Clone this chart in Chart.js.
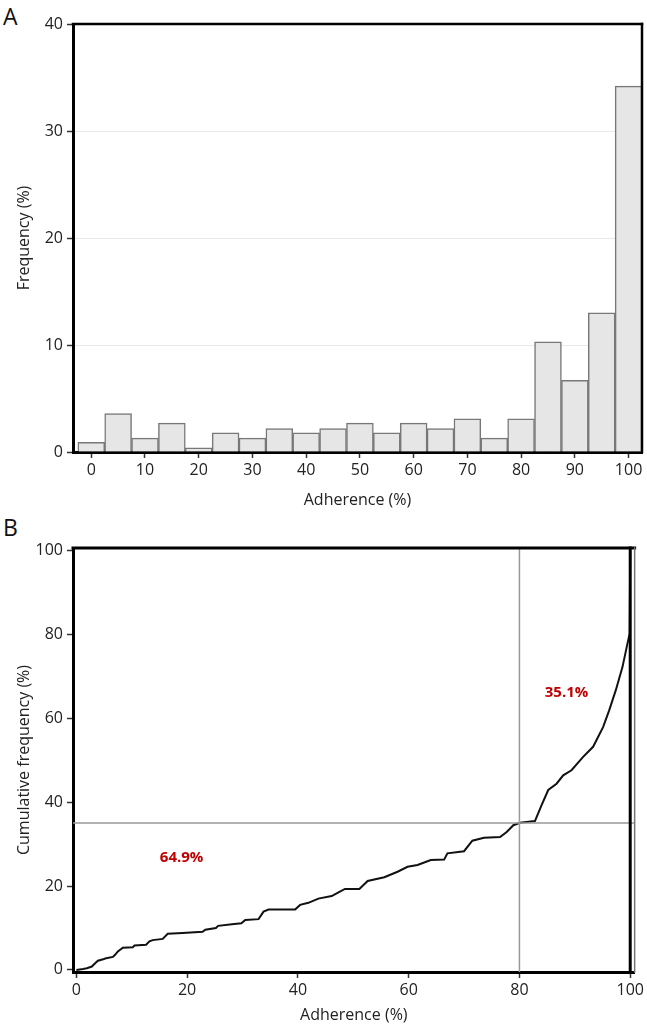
<!DOCTYPE html>
<html>
<head>
<meta charset="utf-8">
<script src="https://cdn.jsdelivr.net/npm/chart.js@4.4.1/dist/chart.umd.min.js"></script>
<style>
  html, body { margin: 0; padding: 0; background: #fff; }
  body { width: 647px; height: 1025px; position: relative; overflow: hidden; font-family: "Open Sans", sans-serif; }
  .panel { position: absolute; left: 0; }
  .letter { position: absolute; left: 3px; font-size: 23px; color: #111; }
</style>
</head>
<body>
<div class="letter" style="top:0px">A</div>
<div class="panel" style="top:0"><canvas id="histChart" width="647" height="510"></canvas></div>
<div class="letter" style="top:511px">B</div>
<div class="panel" style="top:510px"><canvas id="cumChart" width="647" height="515"></canvas></div>

<script>
// histogram: adherence bins (centre, width 5) and frequency (%)
const bins = [0, 5, 10, 15, 20, 25, 30, 35, 40, 45, 50, 55, 60, 65, 70, 75, 80, 85, 90, 95, 100];
const freq = [0.9, 3.6, 1.3, 2.7, 0.4, 1.8, 1.3, 2.2, 1.8, 2.2, 2.7, 1.8, 2.7, 2.2, 3.1, 1.3, 3.1, 10.3, 6.7, 13.0, 34.2];
const freqTicks = [0, 10, 20, 30, 40];
const adhTicksA = [0, 10, 20, 30, 40, 50, 60, 70, 80, 90, 100];

// cumulative distribution
const cumX = [0, 1.2, 1.9, 2.8, 3.4, 3.9, 5.0, 5.4, 6.6, 7.0, 7.5, 8.4, 10.2, 10.5, 12.6, 13.2, 13.8, 15.6, 16.5, 19.2,
  22.8, 23.3, 25.2, 25.6, 28.1, 29.8, 30.5, 32.9, 33.8, 34.7, 39.5, 40.4, 41.9, 43.7, 46.1, 47.5, 48.5, 51.1, 52.6, 55.6,
  58.0, 59.8, 61.6, 64.0, 66.4, 67.0, 70.0, 71.5, 73.6, 76.5, 77.7, 78.9, 80.1, 82.8, 84.0, 85.2, 86.7, 87.9, 89.4, 91.5,
  93.3, 95.1, 96.2, 97.4, 98.6, 99.5, 99.9, 100];
const cumY = [0, 0.2, 0.4, 0.8, 1.6, 2.2, 2.6, 2.8, 3.1, 3.6, 4.4, 5.3, 5.4, 5.8, 6.0, 6.8, 7.1, 7.4, 8.6, 8.8,
  9.1, 9.6, 10.0, 10.5, 10.9, 11.1, 11.9, 12.1, 13.9, 14.4, 14.4, 15.5, 16.0, 17.0, 17.6, 18.6, 19.3, 19.3, 21.2, 22.1,
  23.4, 24.6, 25.0, 26.2, 26.3, 27.8, 28.3, 30.8, 31.5, 31.7, 32.9, 34.5, 35.1, 35.5, 39.3, 42.9, 44.4, 46.4, 47.6, 50.8,
  53.2, 57.9, 61.9, 66.7, 72.2, 77.8, 80.2, 100];
const cumTicks = [0, 20, 40, 60, 80, 100];
const adhTicksB = [0, 20, 40, 60, 80, 100];
const cutoffAdh = 80;
const cutoffCum = 35;
const shareText = ['64.9%', '35.1%'];

const tickFont = { family: 'Open Sans', size: 16 };
const titleFont = { family: 'Open Sans', size: 16 };

const framePlugin = {
  id: 'frame',
  afterDatasetsDraw(chart, args, opts) {
    const { ctx, chartArea: a } = chart;
    ctx.save();
    ctx.lineCap = 'square';
    ctx.strokeStyle = opts.topColor;
    ctx.lineWidth = opts.topWidth;
    ctx.beginPath(); ctx.moveTo(a.left, a.top); ctx.lineTo(a.right, a.top); ctx.stroke();
    ctx.strokeStyle = opts.rightColor;
    ctx.lineWidth = opts.rightWidth;
    ctx.beginPath(); ctx.moveTo(a.right, a.top); ctx.lineTo(a.right, a.bottom); ctx.stroke();
    if (opts.endAt !== undefined) {
      const px = chart.scales.x.getPixelForValue(opts.endAt);
      ctx.strokeStyle = '#000';
      ctx.lineWidth = 3;
      ctx.beginPath(); ctx.moveTo(px, a.top); ctx.lineTo(px, a.bottom); ctx.stroke();
    }
    ctx.restore();
  }
};

const notesPlugin = {
  id: 'notes',
  afterDatasetsDraw(chart, args, opts) {
    if (!opts.items) return;
    const { ctx, scales } = chart;
    ctx.save();
    ctx.font = 'bold 15px "Open Sans"';
    ctx.fillStyle = '#c00000';
    ctx.textAlign = 'center';
    ctx.textBaseline = 'middle';
    opts.items.forEach(n => {
      ctx.fillText(n.text, scales.x.getPixelForValue(n.x), scales.y.getPixelForValue(n.y));
    });
    ctx.restore();
  }
};

function setTicks(list) {
  return scale => { scale.ticks = list.map(v => ({ value: v })); };
}

// Panel A
new Chart(document.getElementById('histChart'), {
  type: 'bar',
  data: {
    datasets: [{
      data: bins.map((b, i) => ({ x: b, y: freq[i] })),
      backgroundColor: '#e6e6e6',
      borderColor: '#787878',
      borderWidth: 1.5,
      categoryPercentage: 1,
      barPercentage: 1
    }]
  },
  options: {
    responsive: false,
    animation: false,
    devicePixelRatio: 1,
    layout: { padding: { top: 24, right: 5, left: 0, bottom: 0 } },
    plugins: { legend: { display: false }, tooltip: { enabled: false },
      frame: { topColor: '#000', topWidth: 2.5, rightColor: '#000', rightWidth: 2.5 } },
    scales: {
      x: {
        type: 'linear', min: -3.4, max: 102.5, offset: false,
        afterBuildTicks: setTicks(adhTicksA),
        afterFit: s => { s.height = 58; },
        border: { display: true, color: '#000', width: 3 },
        grid: { drawOnChartArea: false, offset: false, tickLength: 6, tickColor: '#333', tickWidth: 1.5 },
        ticks: { color: '#222', font: tickFont, padding: 3, maxRotation: 0 },
        title: { display: true, text: 'Adherence (%)', color: '#222', font: titleFont, padding: { top: 2, bottom: 0 } }
      },
      y: {
        min: 0, max: 40,
        afterBuildTicks: setTicks(freqTicks),
        afterFit: s => { s.width = 73; },
        border: { display: true, color: '#000', width: 3 },
        grid: {
          color: c => (c.tick && (c.tick.value === 0 || c.tick.value === 40)) ? 'rgba(0,0,0,0)' : '#e8e8e8',
          tickLength: 6, tickColor: '#333', tickWidth: 1.5
        },
        ticks: { color: '#222', font: tickFont, padding: 4 },
        title: { display: true, text: 'Frequency (%)', color: '#222', font: titleFont, padding: { top: 15, bottom: 0 } }
      }
    }
  },
  plugins: [framePlugin]
});

// Panel B
new Chart(document.getElementById('cumChart'), {
  type: 'scatter',
  data: {
    datasets: [
      {
        data: [{ x: cutoffAdh, y: -0.5 }, { x: cutoffAdh, y: 100.6 }],
        showLine: true, borderColor: '#999', borderWidth: 1.5, pointRadius: 0
      },
      {
        data: [{ x: -0.6, y: cutoffCum }, { x: 100.8, y: cutoffCum }],
        showLine: true, borderColor: '#999', borderWidth: 1.5, pointRadius: 0
      },
      {
        data: cumX.map((x, i) => ({ x: x, y: cumY[i] })),
        showLine: true, borderColor: '#111', borderWidth: 2, pointRadius: 0, tension: 0
      }
    ]
  },
  options: {
    responsive: false,
    animation: false,
    devicePixelRatio: 1,
    layout: { padding: { top: 38, right: 8, left: 0, bottom: 0 } },
    plugins: {
      legend: { display: false }, tooltip: { enabled: false },
      frame: { topColor: '#000', topWidth: 3, rightColor: '#777', rightWidth: 1.5, endAt: 100 },
      notes: { items: [{ text: shareText[0], x: 19, y: 26.7 }, { text: shareText[1], x: 88.5, y: 66 }] }
    },
    scales: {
      x: {
        type: 'linear', min: -0.6, max: 100.8,
        afterBuildTicks: setTicks(adhTicksB),
        afterFit: s => { s.height = 53; },
        border: { display: true, color: '#000', width: 3 },
        grid: { drawOnChartArea: false, tickLength: 6, tickColor: '#333', tickWidth: 1.5 },
        ticks: { color: '#222', font: tickFont, padding: 3, maxRotation: 0 },
        title: { display: true, text: 'Adherence (%)', color: '#222', font: titleFont, padding: { top: 2, bottom: 0 } }
      },
      y: {
        min: -0.5, max: 100.6,
        afterBuildTicks: setTicks(cumTicks),
        afterFit: s => { s.width = 73; },
        border: { display: true, color: '#000', width: 3 },
        grid: { drawOnChartArea: false, tickLength: 6, tickColor: '#333', tickWidth: 1.5 },
        ticks: { color: '#222', font: tickFont, padding: 4 },
        title: { display: true, text: 'Cumulative frequency (%)', color: '#222', font: titleFont, padding: { top: 15, bottom: 0 } }
      }
    }
  },
  plugins: [framePlugin, notesPlugin]
});
</script>
</body>
</html>
